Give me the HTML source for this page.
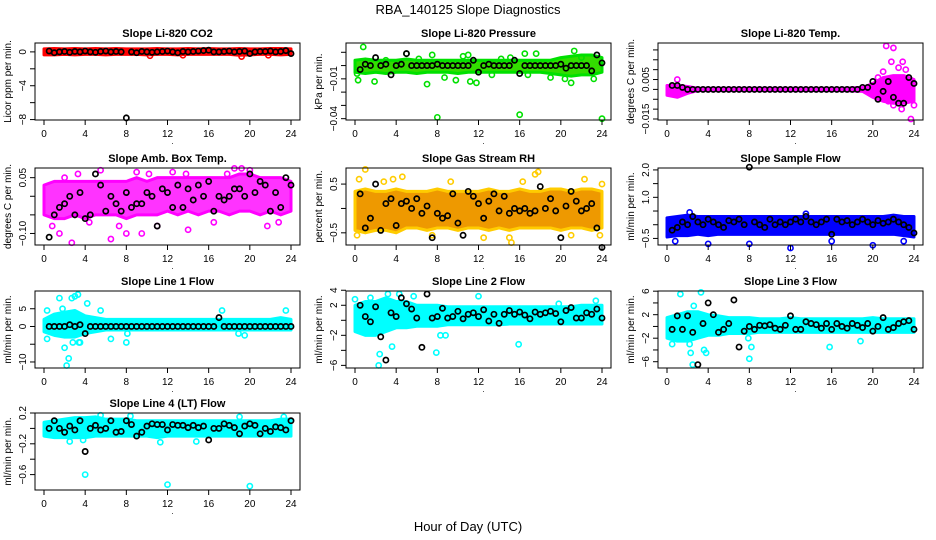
<!DOCTYPE html>
<html><head><meta charset="utf-8"><style>
body{margin:0;background:#fff}
svg{display:block}
text{font-family:"Liberation Sans","DejaVu Sans",sans-serif;fill:#000}
</style></head><body>
<svg id="chart" width="936" height="540" xmlns="http://www.w3.org/2000/svg">
<text x="468" y="14" text-anchor="middle" font-size="13">RBA_140125  Slope Diagnostics</text>
<text x="468" y="531" text-anchor="middle" font-size="13">Hour of Day (UTC)</text>
</svg>
<script>
const bandHours=[0,1,2,3,4,5,6,7,8,9,10,11,12,13,14,15,16,17,18,19,20,21,22,23,24];
const blackHours=[0.5,1,1.5,2,2.5,3,3.5,4,4.5,5,5.5,6,6.5,7,7.5,8,8.5,9,9.5,10,10.5,11,11.5,12,12.5,13,13.5,14,14.5,15,15.5,16,16.5,17,17.5,18,18.5,19,19.5,20,20.5,21,21.5,22,22.5,23,23.5,24];

const co2Lo=[-0.35,-0.35,-0.3,-0.35,-0.3,-0.3,-0.35,-0.3,-0.3,-0.3,-0.35,-0.3,-0.3,-0.35,-0.3,-0.3,-0.3,-0.3,-0.3,-0.4,-0.35,-0.3,-0.3,-0.35,-0.3];
const co2Hi=[0.35,0.4,0.35,0.4,0.35,0.4,0.35,0.4,0.35,0.35,0.35,0.4,0.35,0.35,0.4,0.35,0.4,0.35,0.35,0.4,0.35,0.35,0.4,0.4,0.35];
const co2PtsH=[19.2,10.3,13.5,21.8];
const co2PtsV=[-0.55,-0.45,-0.4,-0.4];
const co2Blk=[0.1,-0.1,0,0.05,-0.05,0.05,0,0.1,0,-0.05,0.05,0.1,0,0.05,0,-7.8,0,-0.1,0.05,0,-0.05,0,0.05,0.1,0,-0.1,0.05,0,0.05,0.1,0.15,0.2,0,0,0.05,0.1,0,0.05,0.1,-0.2,0,0.05,0.05,0.1,0,0.05,0.15,-0.2];

const presLo=[-0.005,-0.006,-0.005,-0.006,-0.005,-0.005,-0.006,-0.005,-0.005,-0.005,-0.006,-0.005,-0.005,-0.005,-0.005,-0.005,-0.005,-0.005,-0.005,-0.006,-0.007,-0.008,-0.007,-0.007,-0.005];
const presHi=[0.004,0.005,0.004,0.004,0.004,0.005,0.004,0.004,0.004,0.004,0.004,0.004,0.004,0.004,0.004,0.004,0.004,0.004,0.004,0.004,0.006,0.007,0.008,0.008,0.006];
const presPtsH=[0.8,0.3,1.9,5,7,7.5,8,8.7,9.8,10.5,11,11.2,11.8,13.3,14.2,15.1,16,16.5,16.8,17.6,19,20.4,21,21.3,22,23.2,24,0.2,3,6.2];
const presPtsV=[0.014,-0.011,-0.012,0.009,-0.014,0.008,-0.039,-0.009,-0.011,0.007,0.008,-0.012,-0.013,-0.007,0.005,0.006,-0.037,0.009,-0.007,0.009,-0.009,-0.010,-0.013,0.011,0.006,-0.010,-0.040,-0.006,0.004,0.005];
const presBlk=[-0.003,0.001,0,0.006,0,0.001,-0.007,0,0.001,0.009,0,0,0,0,0,0.001,0,0,0,0,0,0,0.004,-0.005,0,0.001,0,0,0,0,0.004,-0.006,0,0,0,0,0,0,0,0.001,-0.002,0,0,0,0,-0.004,0.008,0.002];

const tempLo=[-0.003,-0.004,-0.002,-0.0006,-0.0006,-0.0006,-0.0006,-0.0006,-0.0006,-0.0006,-0.0006,-0.0006,-0.0006,-0.0006,-0.0006,-0.0006,-0.0006,-0.0006,-0.0008,-0.001,-0.004,-0.006,-0.007,-0.007,-0.006];
const tempHi=[0.002,0.002,0.0015,0.0006,0.0006,0.0006,0.0006,0.0006,0.0006,0.0006,0.0006,0.0006,0.0006,0.0006,0.0006,0.0006,0.0006,0.0006,0.0008,0.001,0.003,0.006,0.007,0.007,0.005];
const tempPtsH=[21.3,22,21.8,22.9,22.5,23.2,21,22.8,23.7,24,22,20.5,1,21.5,23.5];
const tempPtsV=[0.022,0.021,0.014,0.014,0.011,0.010,0.009,-0.010,-0.015,-0.008,-0.008,0.006,0.005,-0.006,-0.005];
const tempBlk=[0.002,0.002,0.001,0,0,0,0,0,0,0,0,0,0,0,0,0,0,0,0,0,0,0,0,0,0,0,0,0,0,0,0,0,0,0,0,0,0,0.001,0.001,0.004,-0.005,-0.001,0.004,-0.004,-0.007,-0.007,0.006,0.003];

const ambLo=[-0.05,-0.06,-0.06,-0.05,-0.06,-0.05,-0.05,-0.05,-0.06,-0.05,-0.05,-0.05,-0.04,-0.05,-0.04,-0.05,-0.04,-0.04,-0.05,-0.04,-0.04,-0.05,-0.04,-0.05,-0.04];
const ambHi=[0.03,0.04,0.04,0.04,0.04,0.04,0.04,0.04,0.04,0.05,0.04,0.05,0.05,0.05,0.05,0.05,0.05,0.05,0.05,0.06,0.06,0.05,0.05,0.05,0.04];
const ambPtsH=[2.7,6.5,8,9.5,10.2,3.3,2,5.5,11,14,18.5,19.2,20,17.8,0.8,1.5,4.4,7.3,12.5,16.5,21.7,22.8,13.8,9];
const ambPtsV=[-0.125,-0.115,-0.1,-0.1,0.06,0.06,0.05,0.07,-0.08,-0.09,0.075,0.075,0.07,0.06,-0.08,-0.1,-0.07,-0.08,0.065,-0.07,-0.08,-0.07,0.06,0.065];
const ambBlk=[-0.11,-0.05,-0.03,-0.02,0,-0.05,0.01,-0.06,-0.05,0.06,0.03,-0.04,0,-0.02,-0.04,0.01,-0.03,-0.02,-0.02,0.01,0,-0.08,0.02,0.01,-0.03,0.03,-0.03,0.02,-0.01,0.03,0,0.04,-0.04,0,-0.01,0,0.02,0.02,0,0.06,0.01,0.04,0.03,-0.04,0.01,-0.03,0.05,0.03];

const rhLo=[-0.45,-0.5,-0.45,-0.45,-0.5,-0.4,-0.4,-0.45,-0.4,-0.4,-0.45,-0.4,-0.4,-0.45,-0.4,-0.45,-0.4,-0.4,-0.4,-0.4,-0.45,-0.4,-0.4,-0.45,-0.4];
const rhHi=[0.35,0.4,0.35,0.35,0.4,0.35,0.35,0.35,0.4,0.35,0.35,0.35,0.35,0.4,0.35,0.35,0.4,0.35,0.35,0.4,0.4,0.35,0.4,0.4,0.35];
const rhPtsH=[0.4,1,0.2,2.8,3.7,4.6,15.2,17.5,17.8,15,24,23.8,7.5,9.3,16.3,22.3,21,12.5];
const rhPtsV=[0.6,0.8,-0.55,0.55,0.6,0.65,-0.7,0.7,0.75,-0.6,0.5,-0.55,-0.55,0.55,0.55,0.6,-0.55,-0.6];
const rhBlk=[0.3,-0.4,-0.2,0.5,-0.45,0.1,0.2,-0.35,0.1,0.15,0,0.2,-0.1,0.05,-0.6,-0.1,-0.2,-0.15,0.3,-0.3,-0.55,0.35,0.25,0.1,-0.2,0.15,0.3,-0.05,0.25,-0.1,0,-0.05,0,-0.1,-0.05,0.45,0,0.2,-0.05,-0.6,0.05,0.35,0.15,-0.05,0,0.1,-0.4,-0.8];

const flowLo=[-0.45,-0.4,-0.4,-0.35,-0.4,-0.35,-0.35,-0.35,-0.35,-0.35,-0.35,-0.35,-0.35,-0.35,-0.35,-0.35,-0.35,-0.35,-0.35,-0.35,-0.35,-0.35,-0.35,-0.4,-0.45];
const flowHi=[0.25,0.3,0.35,0.3,0.3,0.3,0.3,0.3,0.3,0.3,0.3,0.3,0.3,0.3,0.3,0.3,0.3,0.3,0.3,0.3,0.3,0.3,0.35,0.3,0.3];
const flowPtsH=[0.8,4,8,12,16,20,23,2.2,13.5];
const flowPtsV=[-0.6,-0.7,-0.7,-0.85,-0.6,-0.75,-0.6,0.45,0.4];
const flowBlk=[-0.2,-0.1,0.1,0,0.3,0.1,0,0.2,0.1,0,-0.1,0.15,0.1,0.2,0,2.1,0.1,0,-0.1,0.2,0,0.1,0,0.1,0.2,0.1,0.3,0.1,0,0.1,0.2,-0.35,0.2,0.1,0.15,0,0.1,0.2,0.1,0,0.15,0.05,0.1,0.2,0.1,0,-0.1,-0.3];

const l1Lo=[-1.5,-2.5,-3,-3,-2,-1.5,-1,-1,-1,-1,-1,-1,-1,-1,-1,-1,-1,-1,-1,-1,-1,-1,-1,-1,-1];
const l1Hi=[2,3.5,4,4.5,3,2.5,2,2,2,2,2,2,2,2,2,2,2,2,2,2,2,2,2,2.5,2];
const l1PtsH=[0.3,0.3,1.5,2,2.2,2.4,2.7,3,3.3,3.4,4.2,1.8,2.8,3.5,6.5,8,8.1,17.3,18.9,19.5,23.5,5.5];
const l1PtsV=[4.5,-3.5,8,-6,-11,-9,8,8.5,9,-4.5,6.5,5,-4.5,-4.5,-3.5,-4.5,-2,4.5,-2,-2.5,4.5,4.5];
const l1Blk=[0,0,0,0,0.5,0,0.5,-2,0,0,0,0,0,0,0,0,0,0,0,0,0,0,0,0,0,0,0,0,0,0,0,0,0,2.5,0,0,0,0,0,0,0,0,0,0,0,0,0,0];

const l2Lo=[-1.5,-2,-2,-1.5,-1,-1,-0.8,-0.8,-0.8,-0.6,-0.6,-0.6,-0.6,-0.6,-0.6,-0.5,-0.5,-0.5,-0.5,-0.5,-0.5,-0.5,-0.5,-0.5,-0.5];
const l2Hi=[2,2.5,2.5,3,2.5,2.5,2,2,2,1.8,1.8,1.8,1.8,1.8,1.8,1.8,1.8,1.8,1.8,1.8,1.8,1.8,2,2,2];
const l2PtsH=[0,2.3,2.4,3.6,4.3,5.7,7.9,8.3,8.8,12,15.9,19.8,23.4,1.5,3.2];
const l2PtsV=[2.8,-6,-4.5,-3.5,3.5,3.2,-4.3,-2,-2,3.2,-3.2,2.2,2.6,3,3.5];
const l2Blk=[2,0.5,-0.2,1.8,-2.2,-5.3,1,0.5,3,2.2,1.5,0.3,-3.6,3.5,0.3,0.5,1.6,0.3,0.5,1.2,0.2,0.8,1,0.5,1.4,-0.1,0.8,-0.4,0.8,1.3,0.8,1.1,0.7,0.2,1.1,0.8,1,1.2,0.9,-0.2,1.3,1.7,0.3,0.3,1,0.8,1.5,0.3];

const l3Lo=[-2,-2.5,-2.5,-2,-1.5,-1.5,-1.2,-1.2,-1.2,-1,-1,-1,-1,-1,-1,-1,-1,-1,-1,-1,-1,-1,-1,-1,-1];
const l3Hi=[1.5,2,2.5,2.5,2,1.8,1.5,1.5,1.5,1.3,1.3,1.3,1.5,1.3,1.3,1.3,1.3,1.3,1.3,1.3,1.5,1.3,1.3,1.3,1.3];
const l3PtsH=[1.3,2.3,2.5,2.6,3.3,3.6,3.8,8,8.2,7.9,15.8,18.8,0.5,2.2];
const l3PtsV=[5.5,-4.5,-6.5,3.5,5.8,-4,-4.5,-5.5,-3.5,-2,-3.5,-2.5,-3,-3];
const l3Blk=[-0.5,1.8,-0.5,1.8,-1,-6.5,0.5,4,2,-1,-0.5,0.5,4.5,-3.5,-0.8,0,-0.5,0.2,0.1,0.3,-0.3,-0.5,0.2,1.8,-0.5,-0.5,0.8,0.5,0.3,-0.3,0.5,-0.5,0.5,0,-0.3,0.5,0.2,-0.2,0.5,-0.8,0,1.5,-0.5,-0.2,0.5,0.8,1,-0.5];

const l4Lo=[-0.1,-0.12,-0.12,-0.12,-0.12,-0.1,-0.1,-0.1,-0.1,-0.1,-0.1,-0.12,-0.1,-0.1,-0.1,-0.1,-0.1,-0.1,-0.1,-0.1,-0.1,-0.1,-0.1,-0.1,-0.1];
const l4Hi=[0.08,0.1,0.12,0.14,0.14,0.15,0.12,0.12,0.12,0.1,0.1,0.1,0.1,0.1,0.1,0.1,0.1,0.1,0.1,0.1,0.1,0.1,0.1,0.12,0.12];
const l4PtsH=[4,12,20,2.5,11.3,3.8,5.5,19,23.3,14.8,8.4];
const l4PtsV=[-0.6,-0.73,-0.75,-0.17,-0.18,-0.15,0.17,0.15,0.15,-0.17,0.16];
const l4Blk=[0,0.1,0,-0.05,0.03,-0.02,0.1,-0.3,0,0.04,-0.02,0,0.1,-0.05,-0.04,0.1,0.05,-0.1,-0.05,0.03,0.06,0.05,0.05,-0.02,0.05,0.04,0.04,0.01,0.04,0.01,0.03,-0.15,0,0,0.06,0.04,0.01,-0.07,0.03,0.06,0.04,-0.07,0,-0.04,0.02,0.01,-0.02,0.1];

const xTicks=[0,4,8,12,16,20,24];

const panels=[
 {name:'co2',title:'Slope Li-820 CO2',ylab:'Licor ppm per min.',col:0,row:0,ylim:[-8.05,1.05],ticks:[0,-2,-4,-6,-8],labels:[0,-4,-8],fmt:v=>String(v).replace('-','\u2212'),color:'#ff0000',fill:'#ff0000',lo:co2Lo,hi:co2Hi,ph:co2PtsH,pv:co2PtsV,blk:co2Blk},
 {name:'pressure',title:'Slope Li-820 Pressure',ylab:'kPa per min.',col:1,row:0,ylim:[-0.041,0.017],ticks:[0.01,0,-0.01,-0.02,-0.03,-0.04],labels:[-0.01,-0.04],fmt:v=>'\u2212'+Math.abs(v).toFixed(2),color:'#00e000',fill:'#33dd00',lo:presLo,hi:presHi,ph:presPtsH,pv:presPtsV,blk:presBlk},
 {name:'li820-temp',title:'Slope Li-820 Temp.',ylab:'degrees C per min.',col:2,row:0,ylim:[-0.0155,0.0235],ticks:[0.02,0.015,0.01,0.005,0,-0.005,-0.01,-0.015],labels:[-0.015,0.005],fmt:v=>(v<0?'\u2212':'')+Math.abs(v).toFixed(3),color:'#ff00ff',fill:'#ff00ff',lo:tempLo,hi:tempHi,ph:tempPtsH,pv:tempPtsV,blk:tempBlk},
 {name:'amb-box-temp',title:'Slope Amb. Box Temp.',ylab:'degrees C per min.',col:0,row:1,ylim:[-0.131,0.076],ticks:[0.05,0,-0.05,-0.1],labels:[0.05,-0.1],fmt:v=>(v<0?'\u2212':'')+Math.abs(v).toFixed(2),color:'#ff00ff',fill:'#ff33ff',lo:ambLo,hi:ambHi,ph:ambPtsH,pv:ambPtsV,blk:ambBlk},
 {name:'gas-stream-rh',title:'Slope Gas Stream RH',ylab:'percent per min.',col:1,row:1,ylim:[-0.75,0.83],ticks:[0.5,0,-0.5],labels:[0.5,-0.5],fmt:v=>(v<0?'\u2212':'')+Math.abs(v).toFixed(1),color:'#ffcc00',fill:'#ee9900',lo:rhLo,hi:rhHi,ph:rhPtsH,pv:rhPtsV,blk:rhBlk},
 {name:'sample-flow',title:'Slope Sample Flow',ylab:'ml/min per min.',col:2,row:1,ylim:[-0.74,2.07],ticks:[2,1.5,1,0.5,0,-0.5],labels:[2,1,-0.5],fmt:v=>(v<0?'\u2212':'')+Math.abs(v).toFixed(1),color:'#0000ff',fill:'#0000ff',lo:flowLo,hi:flowHi,ph:flowPtsH,pv:flowPtsV,blk:flowBlk},
 {name:'line1-flow',title:'Slope Line 1 Flow',ylab:'ml/min per min.',col:0,row:2,ylim:[-11.7,10],ticks:[5,0,-5,-10],labels:[5,0,-10],fmt:v=>String(v).replace('-','\u2212'),color:'#00ffff',fill:'#00ffff',lo:l1Lo,hi:l1Hi,ph:l1PtsH,pv:l1PtsV,blk:l1Blk},
 {name:'line2-flow',title:'Slope Line 2 Flow',ylab:'ml/min per min.',col:1,row:2,ylim:[-6.35,3.9],ticks:[4,2,0,-2,-4,-6],labels:[4,2,-2,-6],fmt:v=>String(v).replace('-','\u2212'),color:'#00ffff',fill:'#00ffff',lo:l2Lo,hi:l2Hi,ph:l2PtsH,pv:l2PtsV,blk:l2Blk},
 {name:'line3-flow',title:'Slope Line 3 Flow',ylab:'ml/min per min.',col:2,row:2,ylim:[-7.07,6.03],ticks:[6,4,2,0,-2,-4,-6],labels:[6,2,-2,-6],fmt:v=>String(v).replace('-','\u2212'),color:'#00ffff',fill:'#00ffff',lo:l3Lo,hi:l3Hi,ph:l3PtsH,pv:l3PtsV,blk:l3Blk},
 {name:'line4-flow',title:'Slope Line 4 (LT) Flow',ylab:'ml/min per min.',col:0,row:3,ylim:[-0.8,0.2],ticks:[0.2,0,-0.2,-0.4,-0.6],labels:[0.2,-0.2,-0.6],fmt:v=>(v<0?'\u2212':'')+Math.abs(v).toFixed(1),color:'#00ffff',fill:'#00ffff',lo:l4Lo,hi:l4Hi,ph:l4PtsH,pv:l4PtsV,blk:l4Blk}
];

const svg=document.getElementById('chart');
const NS='http://www.w3.org/2000/svg';
const colLeft=[35,346,658], rowTop=[43,168,291,413], W=265, H=77;
function mk(tag,attrs,parent){const e=document.createElementNS(NS,tag);for(const k in attrs)e.setAttribute(k,attrs[k]);(parent||svg).appendChild(e);return e;}

panels.forEach(p=>{
  const L=colLeft[p.col], T=rowTop[p.row], B=T+H;
  const g=mk('g',{});
  
  
  const xs=h=>L+9+h*(247/24);
  const ys=v=>B-(v-p.ylim[0])/(p.ylim[1]-p.ylim[0])*H;
  // band
  let d='';
  bandHours.forEach((h,i)=>{d+=(i?'L':'M')+xs(h)+','+ys(p.hi[i]);});
  for(let i=bandHours.length-1;i>=0;i--)d+='L'+xs(bandHours[i])+','+ys(p.lo[i]);
  const band=mk('path',{d:d+'Z',fill:p.fill,stroke:p.color,'stroke-width':3,'stroke-linejoin':'round'},g);
  
  
  p.ph.forEach((h,i)=>{
    const c=mk('circle',{cx:xs(h),cy:ys(p.pv[i]),r:2.6,fill:'none',stroke:p.color,'stroke-width':1.6},g);
    
    
  });
  blackHours.forEach((h,i)=>{
    const c=mk('circle',{cx:xs(h),cy:ys(p.blk[i]),r:2.6,fill:'none',stroke:'#000','stroke-width':1.7},g);
    
    
  });
  const box=mk('rect',{x:L,y:T,width:W,height:H,fill:'none',stroke:'#000','stroke-width':1},g);
  
  
  // x axis
  xTicks.forEach(t=>{
    mk('line',{x1:xs(t),x2:xs(t),y1:B,y2:B+5,stroke:'#000'},g);
    const tx=mk('text',{x:xs(t),y:B+17,'text-anchor':'middle','font-size':10},g);
    tx.textContent=t;
    
    
  });
  mk('text',{x:xs(12)+4,y:B+24,'font-size':8},g).textContent='.';
  // y axis
  p.ticks.forEach(t=>{mk('line',{x1:L-5,x2:L,y1:ys(t),y2:ys(t),stroke:'#000'},g);});
  p.labels.forEach(t=>{
    const y=ys(t);
    const tx=mk('text',{x:L-9,y:y,'text-anchor':'middle','font-size':10,transform:'rotate(-90 '+(L-9)+' '+y+')'},g);
    tx.textContent=p.fmt(t);
    
    
  });
  const yl=mk('text',{x:L-24,y:T+H/2,'text-anchor':'middle','font-size':10,transform:'rotate(-90 '+(L-24)+' '+(T+H/2)+')'},g);
  yl.textContent=p.ylab;
  
  
  const ti=mk('text',{x:L+W/2,y:T-6,'text-anchor':'middle','font-size':11,'font-weight':'bold'},g);
  ti.textContent=p.title;
  
  
});
</script>
</body></html>
